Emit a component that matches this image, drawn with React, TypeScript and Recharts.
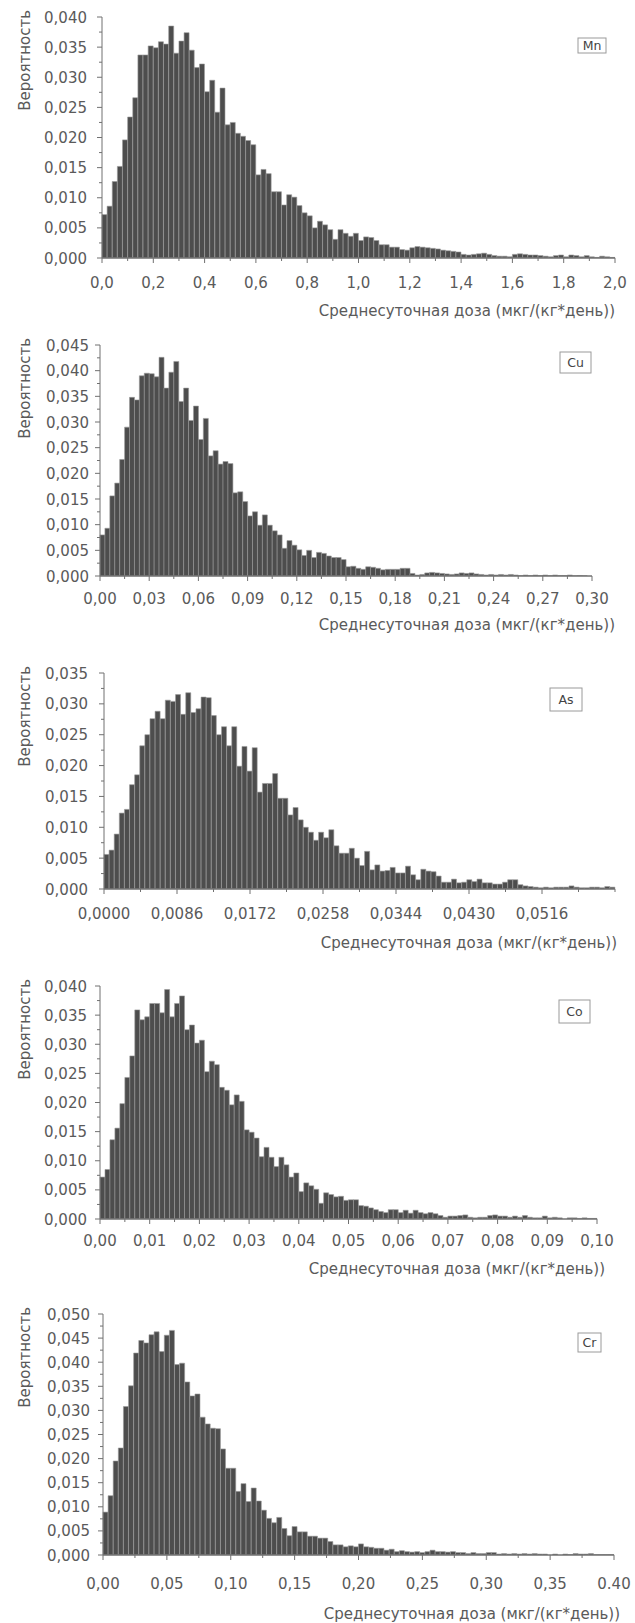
import { BarChart, Bar, XAxis, YAxis } from 'recharts';

const FONT = '"DejaVu Sans", sans-serif';
const TEXT = '#5a5a5a';
const AXIS = '#707070';
const BAR = '#4d4d4d';

// bin probabilities, in units of 0.001
const mnBins = [
  7.2, 8.6, 12.7, 15.2, 19.6, 23.4, 26.6, 33.7, 33.7, 35.2,
  34.9, 35.9, 35.5, 38.5, 34.0, 36.0, 37.4, 34.5, 31.6, 32.2,
  27.6, 29.5, 24.2, 28.2, 22.1, 22.5, 20.7, 20.2, 19.5, 18.8,
  13.8, 14.7, 14.0, 11.0, 11.0, 8.8, 10.5, 10.1, 8.7, 7.5,
  7.0, 5.0, 6.1, 5.5, 4.7, 3.1, 4.7, 4.1, 3.6, 4.1,
  2.9, 3.5, 3.4, 2.9, 2.2, 2.2, 1.8, 1.8, 1.4, 1.3,
  1.7, 1.9, 1.8, 1.7, 1.6, 1.5, 1.3, 1.2, 1.1, 1.0,
  0.6, 0.5, 0.6, 0.7, 0.8, 0.6, 0.4, 0.3, 0.3, 0.2,
  0.6, 0.7, 0.6, 0.5, 0.5, 0.4, 0.3, 0.2, 0.4, 0.5,
  0.2, 0.5, 0.4, 0.2, 0.4, 0.2, 0.1, 0.3, 0.2, 0.1,
];
const cuBins = [
  8.0, 9.3, 15.6, 18.1, 22.7, 29.0, 34.8, 34.3, 39.0, 39.5,
  39.4, 38.8, 42.6, 36.6, 39.7, 41.8, 34.0, 36.6, 30.3, 33.1,
  26.6, 30.7, 23.4, 24.4, 21.8, 22.3, 21.9, 16.2, 16.4, 14.5,
  11.7, 12.5, 9.9, 11.9, 9.9, 8.8, 8.0, 5.4, 6.9, 6.0,
  5.1, 4.0, 5.0, 3.6, 4.6, 4.4, 3.9, 3.6, 3.6, 3.2,
  1.8, 1.9, 1.5, 1.3, 1.8, 1.7, 1.5, 1.2, 1.3, 1.3,
  1.3, 1.5, 1.5, 0.5, 0.2, 0.3, 0.6, 0.7, 0.6, 0.5,
  0.4, 0.3, 0.4, 0.6, 0.5, 0.6, 0.4, 0.3, 0.2, 0.3,
  0.2, 0.3, 0.2, 0.3, 0.2, 0.1, 0.2, 0.1, 0.2, 0.1,
  0.2, 0.1, 0.2, 0.1, 0.1, 0.2, 0.05, 0.1, 0.05, 0,
];
const asBins = [
  5.6, 6.3, 8.9, 12.3, 12.9, 16.9, 18.5, 23.2, 25.0, 27.6,
  28.8, 27.6, 30.6, 30.4, 31.5, 28.3, 31.8, 28.6, 29.2, 31.1,
  31.0, 28.1, 25.0, 26.3, 23.2, 26.3, 19.9, 23.1, 19.1, 22.9,
  15.7, 17.1, 17.1, 18.7, 14.7, 14.7, 12.0, 13.2, 11.2, 10.0,
  9.2, 7.9, 9.2, 8.3, 9.6, 7.0, 5.8, 5.8, 6.6, 5.0,
  3.8, 6.1, 3.1, 3.9, 2.9, 3.0, 3.5, 2.6, 2.6, 3.7,
  2.3, 1.5, 3.2, 2.9, 2.8, 2.1, 1.1, 1.1, 1.6, 1.0,
  1.1, 1.5, 1.2, 1.6, 1.0, 1.0, 0.8, 0.8, 1.1, 1.5,
  1.5, 0.7, 0.5, 0.4, 0.3, 0.2, 0.3, 0.2, 0.3, 0.3,
  0.3, 0.5, 0.3, 0.2, 0.2, 0.3, 0.3, 0.2, 0.4, 0.3,
];
const coBins = [
  7.2, 8.5, 13.6, 15.6, 19.8, 24.3, 28.0, 35.9, 34.2, 34.7,
  37.0, 37.0, 35.4, 39.4, 34.7, 37.0, 38.3, 32.5, 33.3, 30.2,
  30.7, 25.3, 27.1, 26.5, 22.6, 22.1, 19.6, 21.3, 20.2, 15.3,
  14.9, 13.9, 10.7, 12.3, 10.6, 9.0, 10.6, 9.3, 7.2, 7.9,
  4.7, 6.2, 5.7, 5.1, 2.7, 4.5, 4.2, 3.8, 3.9, 3.2,
  3.3, 3.3, 2.3, 2.2, 1.9, 1.6, 1.3, 1.1, 1.6, 1.6,
  1.1, 1.5, 1.0, 1.5, 1.1, 0.9, 1.1, 0.9, 0.6, 0.3,
  0.5, 0.5, 0.6, 0.7, 0.3, 0.2, 0.3, 0.3, 0.6, 0.7,
  0.5, 0.5, 0.3, 0.5, 0.3, 0.6, 0.3, 0.2, 0.2, 0.5,
  0.2, 0.3, 0.2, 0.0, 0.2, 0.2, 0.1, 0.2, 0.1, 0.1,
];
const crBins = [
  8.9, 12.3, 19.5, 22.2, 30.8, 35.1, 41.9, 44.5, 44.0, 45.7,
  46.3, 42.2, 45.6, 46.6, 39.5, 39.8, 35.9, 33.0, 33.4, 28.6,
  27.2, 26.3, 26.2, 22.0, 18.0, 18.0, 13.2, 14.8, 11.1, 13.9,
  11.2, 9.3, 7.6, 6.7, 7.8, 5.5, 4.0, 5.9, 4.8, 4.8,
  3.9, 3.9, 3.5, 3.5, 2.8, 2.1, 2.1, 1.7, 1.9, 1.7,
  2.3, 1.7, 1.6, 1.4, 1.4, 1.0, 1.2, 0.7, 0.9, 0.7,
  0.6, 0.7, 0.5, 0.7, 1.0, 0.7, 0.7, 0.6, 0.7, 0.5,
  0.5, 0.3, 0.5, 0.3, 0.3, 0.5, 0.5, 0.2, 0.3, 0.2,
  0.3, 0.2, 0.3, 0.2, 0.3, 0.2, 0.2, 0, 0.2, 0,
  0.2, 0.1, 0.3, 0.2, 0.2, 0.3, 0.1, 0.1, 0.1, 0.1,
];

// labelled x ticks and their texts
const mnXTicks = [0, 0.2, 0.4, 0.6, 0.8, 1.0, 1.2, 1.4, 1.6, 1.8, 2.0];
const mnXLabels = ['0,0', '0,2', '0,4', '0,6', '0,8', '1,0', '1,2', '1,4', '1,6', '1,8', '2,0'];
const cuXTicks = [0, 0.03, 0.06, 0.09, 0.12, 0.15, 0.18, 0.21, 0.24, 0.27, 0.3];
const cuXLabels = ['0,00', '0,03', '0,06', '0,09', '0,12', '0,15', '0,18', '0,21', '0,24', '0,27', '0,30'];
const asXTicks = [0, 0.0086, 0.0172, 0.0258, 0.0344, 0.043, 0.0516];
const asXLabels = ['0,0000', '0,0086', '0,0172', '0,0258', '0,0344', '0,0430', '0,0516'];
const coXTicks = [0, 0.01, 0.02, 0.03, 0.04, 0.05, 0.06, 0.07, 0.08, 0.09, 0.1];
const coXLabels = ['0,00', '0,01', '0,02', '0,03', '0,04', '0,05', '0,06', '0,07', '0,08', '0,09', '0,10'];
const crXTicks = [0, 0.05, 0.1, 0.15, 0.2, 0.25, 0.3, 0.35, 0.4];
const crXLabels = ['0,00', '0,05', '0,10', '0,15', '0,20', '0,25', '0,30', '0,35', '0.40'];

const yTitle = 'Вероятность';
const xTitle = 'Среднесуточная доза (мкг/(кг*день))';

const panels = [
  { name: 'Mn', bins: mnBins, xTicks: mnXTicks, xLabels: mnXLabels, xMax: 2.0, yMax: 0.04,
    left: 102, right: 615, top: 17, bottom: 258, labelRight: 87, labelDy: 24, titleDy: 52, titleRight: 615,
    box: [578, 38, 28, 15] },
  { name: 'Cu', bins: cuBins, xTicks: cuXTicks, xLabels: cuXLabels, xMax: 0.3, yMax: 0.045,
    left: 100, right: 592, top: 345, bottom: 576, labelRight: 89, labelDy: 22, titleDy: 48, titleRight: 615,
    box: [560, 352, 31, 21] },
  { name: 'As', bins: asBins, xTicks: asXTicks, xLabels: asXLabels, xMax: 0.0602, yMax: 0.035,
    left: 104, right: 615, top: 673, bottom: 889, labelRight: 88, labelDy: 24, titleDy: 53, titleRight: 617,
    box: [550, 688, 32, 23] },
  { name: 'Co', bins: coBins, xTicks: coXTicks, xLabels: coXLabels, xMax: 0.1, yMax: 0.04,
    left: 100, right: 597, top: 986, bottom: 1219, labelRight: 87, labelDy: 21, titleDy: 49, titleRight: 605,
    box: [559, 1000, 31, 23] },
  { name: 'Cr', bins: crBins, xTicks: crXTicks, xLabels: crXLabels, xMax: 0.4, yMax: 0.05,
    left: 103, right: 614, top: 1314, bottom: 1555, labelRight: 90, labelDy: 28, titleDy: 58, titleRight: 620,
    box: [578, 1333, 23, 19] },
];

const MARGIN_TOP = 12;
const AXIS_H = 70;

const near = (a: number, b: number) => Math.abs(a - b) < 1e-9;

const Panel = ({ p }: { p: any }) => {
  const binW = p.xMax / p.bins.length;
  const data = p.bins.map((v: number, i: number) => ({ i, x: (i + 0.5) * binW, v: v / 1000 }));
  const plotH = p.bottom - p.top;
  const height = MARGIN_TOP + plotH + AXIS_H;

  // major ticks plus one minor between each pair
  const step = p.xTicks[1] - p.xTicks[0];
  const xAll: number[] = [];
  for (let t = 0; t <= p.xMax + 1e-9; t += step / 2) xAll.push(+t.toFixed(6));
  const yAll: number[] = [];
  for (let k = 0; k <= Math.round(p.yMax / 0.0025); k++) yAll.push(+(k * 0.0025).toFixed(4));

  const xTick = (props: any) => {
    const { x, payload } = props;
    const y = p.bottom - p.top + MARGIN_TOP;
    const idx = p.xTicks.findIndex((t: number) => near(t, payload.value));
    const major = idx >= 0;
    return (
      <g>
        <line x1={x} x2={x} y1={y} y2={y + (major ? 5 : 3)} stroke={AXIS} />
        {major && (
          <text x={x} y={y + p.labelDy + 5.5} textAnchor="middle" fill={TEXT} fontSize={15} fontFamily={FONT}>
            {p.xLabels[idx]}
          </text>
        )}
      </g>
    );
  };

  const yTick = (props: any) => {
    const { x, y, payload } = props;
    const major = Math.round(payload.value / 0.0025) % 2 === 0;
    return (
      <g>
        <line x1={x - (major ? 5 : 3)} x2={x} y1={y} y2={y} stroke={AXIS} />
        {major && (
          <text x={p.labelRight} y={y + 5.5} textAnchor="end" fill={TEXT} fontSize={15} fontFamily={FONT}>
            {payload.value.toFixed(3).replace('.', ',')}
          </text>
        )}
      </g>
    );
  };

  return (
    <div style={{ position: 'absolute', left: 0, top: p.top - MARGIN_TOP, width: 635, height }}>
      <BarChart
        width={635}
        height={height}
        data={data}
        margin={{ top: MARGIN_TOP, right: 635 - p.right, bottom: 0, left: 0 }}
        barCategoryGap={0}
      >
        <XAxis
          xAxisId="val"
          dataKey="x"
          type="number"
          domain={[0, p.xMax]}
          ticks={xAll}
          interval={0}
          allowDataOverflow
          height={AXIS_H}
          tickSize={0}
          tickMargin={0}
          tickLine={false}
          axisLine={{ stroke: AXIS }}
          tick={xTick}
        />
        <XAxis xAxisId="bins" dataKey="i" hide height={0} />
        <YAxis
          domain={[0, p.yMax]}
          ticks={yAll}
          interval={0}
          allowDataOverflow
          width={p.left}
          tickSize={0}
          tickMargin={0}
          tickLine={false}
          axisLine={{ stroke: AXIS }}
          tick={yTick}
        />
        <Bar xAxisId="bins" dataKey="v" fill={BAR} stroke="#9a9a9a" strokeWidth={0.6} isAnimationActive={false} />
      </BarChart>
    </div>
  );
};

export default function App() {
  return (
    <div style={{ position: 'absolute', left: 0, top: 0, width: 635, height: 1623, background: '#fff', overflow: 'hidden' }}>
      {panels.map((p) => (
        <Panel key={p.name} p={p} />
      ))}
      <svg width={635} height={1623} style={{ position: 'absolute', left: 0, top: 0, pointerEvents: 'none' }}>
        {panels.map((p) => (
          <g key={p.name} fontFamily={FONT} fill={TEXT}>
            <line x1={p.left} x2={p.right} y1={p.bottom} y2={p.bottom} stroke={AXIS} />
            <text x={29.5} y={p.top - 7} textAnchor="end" fontSize={15} transform={`rotate(-90 29.5 ${p.top - 7})`}>
              {yTitle}
            </text>
            <text x={p.titleRight} y={p.bottom + p.titleDy + 5.5} textAnchor="end" fontSize={15}>
              {xTitle}
            </text>
            <rect x={p.box[0]} y={p.box[1]} width={p.box[2]} height={p.box[3]} fill="#fff" stroke="#9a9a9a" />
            <text x={p.box[0] + p.box[2] / 2} y={p.box[1] + p.box[3] / 2 + 4.5} textAnchor="middle" fontSize={12.5} fill="#444">
              {p.name}
            </text>
          </g>
        ))}
      </svg>
    </div>
  );
}
